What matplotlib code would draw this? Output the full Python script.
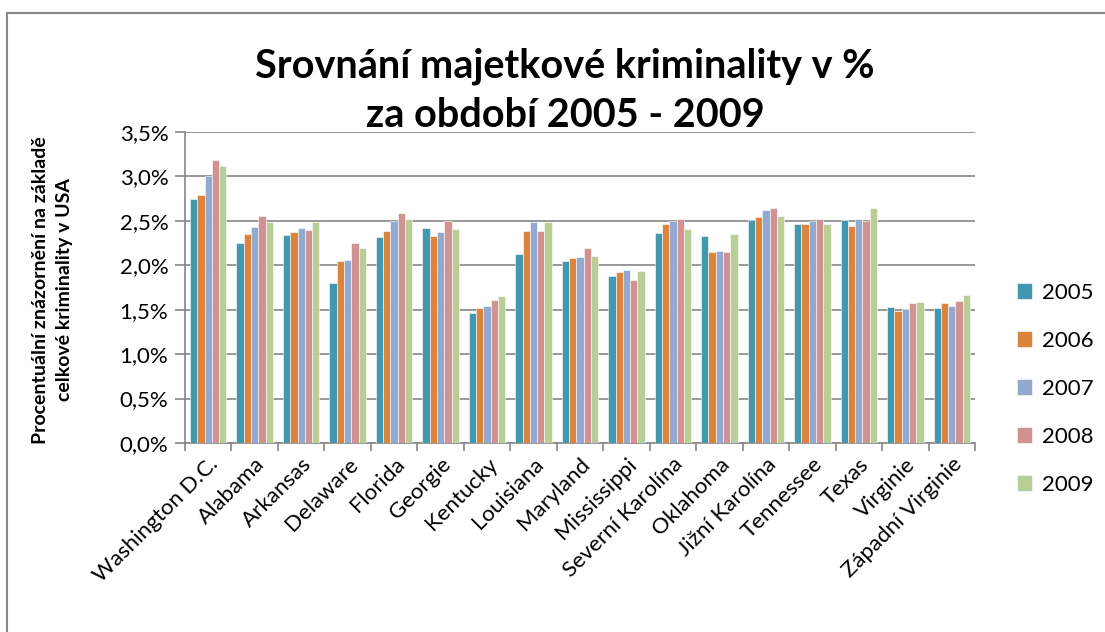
import numpy as np
import matplotlib.pyplot as plt
from matplotlib.lines import Line2D
from matplotlib.ticker import FuncFormatter, MultipleLocator

plt.rcParams["font.family"] = ["Lato", "DejaVu Sans"]

states = ["Washington D.C.", "Alabama", "Arkansas", "Delaware", "Florida", "Georgie",
          "Kentucky", "Louisiana", "Maryland", "Mississippi", "Severní Karolína",
          "Oklahoma", "Jižní Karolína", "Tennessee", "Texas", "Virginie",
          "Západní Virginie"]
years = ["2005", "2006", "2007", "2008", "2009"]

# share of total US crime, %
v2005 = [2.75, 2.25, 2.34, 1.80, 2.32, 2.42, 1.46, 2.13, 2.05, 1.88, 2.36, 2.33, 2.51, 2.47, 2.51, 1.53, 1.52]
v2006 = [2.79, 2.35, 2.38, 2.05, 2.39, 2.33, 1.52, 2.39, 2.08, 1.92, 2.47, 2.15, 2.54, 2.46, 2.44, 1.48, 1.57]
v2007 = [3.00, 2.43, 2.42, 2.06, 2.50, 2.38, 1.54, 2.49, 2.09, 1.95, 2.50, 2.16, 2.62, 2.50, 2.52, 1.51, 1.54]
v2008 = [3.19, 2.55, 2.40, 2.25, 2.59, 2.50, 1.61, 2.39, 2.19, 1.84, 2.52, 2.15, 2.65, 2.52, 2.50, 1.57, 1.60]
v2009 = [3.12, 2.49, 2.49, 2.20, 2.52, 2.41, 1.65, 2.49, 2.10, 1.94, 2.41, 2.35, 2.56, 2.47, 2.64, 1.59, 1.66]

series = [v2005, v2006, v2007, v2008, v2009]
colors = ["#4198AF", "#DB843D", "#93A9CF", "#D19392", "#B9CD96"]

fig = plt.figure(figsize=(11.05, 6.32), dpi=100)
ax = fig.add_axes([185 / 1105, 1 - 443 / 632, 790 / 1105, 311 / 632])

# chart border (only top and left edges fall inside the image)
bx, by = 7 / 1105, 1 - 13 / 632
fig.add_artist(Line2D([bx, 1.0], [by, by], transform=fig.transFigure,
                      color="#868686", linewidth=1.5))
fig.add_artist(Line2D([bx, bx], [0.0, by], transform=fig.transFigure,
                      color="#868686", linewidth=1.5))

x = np.arange(len(states))
w = 0.157
for i, (vals, c, yr) in enumerate(zip(series, colors, years)):
    ax.bar(x + (i - 2) * w, vals, width=w, color=c, label=yr,
           edgecolor="white", linewidth=0.4, zorder=3)

ax.set_xlim(-0.5, len(states) - 0.5)
ax.set_ylim(0, 3.5)
ax.yaxis.set_major_locator(MultipleLocator(0.5))
ax.yaxis.set_major_formatter(FuncFormatter(lambda v, p: f"{v:.1f}%".replace(".", ",")))
ax.grid(axis="y", color="#868686", linewidth=1.2, zorder=0)

ax.set_xticks(x)
ax.set_xticklabels(states, rotation=45, ha="right", va="top", rotation_mode="anchor",
                   fontsize=16)
ax.tick_params(axis="x", length=0, pad=8)
ax.set_xticks(np.arange(len(states) + 1) - 0.5, minor=True)
ax.tick_params(axis="x", which="minor", length=6, color="#868686", width=1.2)
ax.tick_params(axis="y", labelsize=16, length=7, color="#868686", width=1.2, pad=5)

for s in ["top", "right"]:
    ax.spines[s].set_visible(False)
for s in ["left", "bottom"]:
    ax.spines[s].set_color("#868686")
    ax.spines[s].set_linewidth(1.2)

fig.text(565 / 1105, 1 - 91 / 632, "Srovnání majetkové kriminality v %\nza období 2005 - 2009",
         ha="center", va="center", fontsize=28.5, fontweight="bold", linespacing=1.4)

fig.text(53 / 1105, 1 - 290 / 632, "Procentuální znázornění na základě\ncelkové kriminality v USA",
         ha="center", va="center", rotation=90, fontsize=14, fontweight="bold",
         linespacing=1.5)

ax.legend(loc="center left", bbox_to_anchor=(1.053, 0.174), frameon=False,
          borderaxespad=0, borderpad=0,
          fontsize=16, handlelength=0.7, handleheight=0.7, labelspacing=1.26,
          handletextpad=0.45)

fig.savefig("out.png", dpi=100)
